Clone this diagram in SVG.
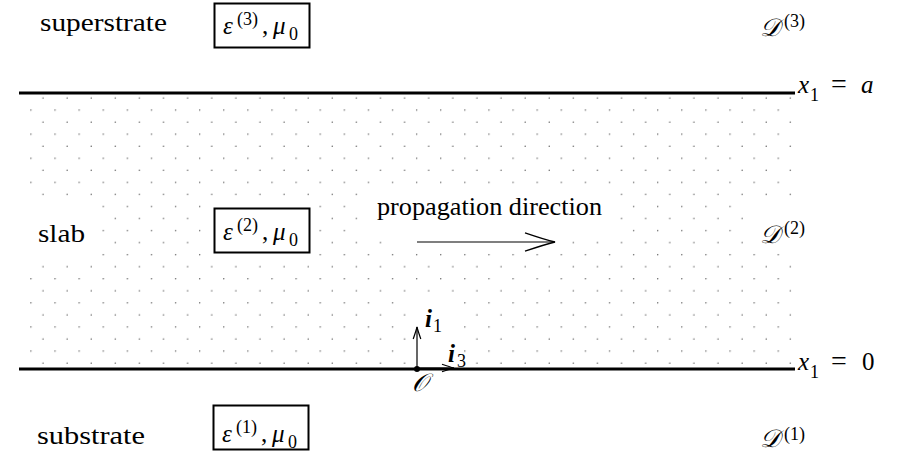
<svg xmlns="http://www.w3.org/2000/svg" width="912" height="464" viewBox="0 0 912 464">
<style>
.box{fill:none;stroke:#000;stroke-width:2}
.bound{stroke:#000;stroke-width:2.8}
.conn{stroke:#000;stroke-width:1.2;fill:none}
</style>
<defs>
<pattern id="dots" x="37" y="92" width="24.107" height="24.1" patternUnits="userSpaceOnUse">
<circle cx="6" cy="6" r="0.7" fill="#555"/>
<circle cx="18.05" cy="18.05" r="0.7" fill="#555"/>
</pattern>
<marker id="headL" markerUnits="userSpaceOnUse" markerWidth="34" markerHeight="24" refX="31" refY="11" orient="auto" overflow="visible">
<path d="M1,1.8 Q21,8.6 31,11 Q21,13.4 1,20.2" fill="none" stroke="#000" stroke-width="1.3"/>
</marker>
<marker id="headS" markerUnits="userSpaceOnUse" markerWidth="16" markerHeight="12" refX="13" refY="5" orient="auto" overflow="visible">
<path d="M1,1.2 Q9,4 13,5 Q9,6 1,8.8" fill="none" stroke="#000" stroke-width="1.2"/>
</marker>
</defs>
<rect width="912" height="464" fill="#fff"/>

<g id="slab-fill">
<path fill="url(#dots)" fill-rule="evenodd" d="M25,95H795V367H25Z M25,200H100V260H25Z M205,200H316V260H205Z M362,188H615V237H362Z M390,237H565V250H390Z M748,200H795V250H748Z M410,297H462V366H410Z"/>
</g>

<g id="boundaries">
<line class="bound" x1="19" y1="93" x2="795" y2="93"/>
<line class="bound" x1="19" y1="369" x2="795" y2="369"/>
</g>

<g font-family="Liberation Serif" font-size="25" fill="#000">
<g id="superstrate">
<text font-family="Liberation Serif" font-size="26" x="40" y="31" textLength="127" lengthAdjust="spacingAndGlyphs">superstrate</text>
</g>
<g id="eps3">
<rect class="box" x="214.5" y="3.5" width="95" height="44"/>
<text font-family="Liberation Serif" y="34"><tspan x="223" font-style="italic">ε</tspan><tspan x="237" dy="-9" font-size="18">(3)</tspan><tspan x="262" dy="9">,</tspan><tspan x="273" font-style="italic">μ</tspan><tspan x="289" dy="6" font-size="18">0</tspan></text>
</g>
<g id="D3">
<text font-family="Liberation Serif" y="36"><tspan x="760" font-style="italic">𝒟</tspan><tspan x="784" dy="-9" font-size="18">(3)</tspan></text>
</g>

<g id="slab">
<text font-family="Liberation Serif" font-size="26" x="38" y="242" textLength="47" lengthAdjust="spacingAndGlyphs">slab</text>
</g>
<g id="eps2">
<rect class="box" x="214.5" y="208.5" width="95" height="44"/>
<text font-family="Liberation Serif" y="240"><tspan x="223" font-style="italic">ε</tspan><tspan x="237" dy="-9" font-size="18">(2)</tspan><tspan x="262" dy="9">,</tspan><tspan x="273" font-style="italic">μ</tspan><tspan x="289" dy="6" font-size="18">0</tspan></text>
</g>
<g id="propagation">
<text font-family="Liberation Serif" x="377" y="215" textLength="225" lengthAdjust="spacingAndGlyphs">propagation direction</text>
</g>
<g id="D2">
<text font-family="Liberation Serif" y="243"><tspan x="760" font-style="italic">𝒟</tspan><tspan x="784" dy="-9" font-size="18">(2)</tspan></text>
</g>

<g id="substrate">
<text font-family="Liberation Serif" font-size="26" x="37" y="444" textLength="108" lengthAdjust="spacingAndGlyphs">substrate</text>
</g>
<g id="eps1">
<rect class="box" x="213.5" y="405.5" width="95" height="44"/>
<text font-family="Liberation Serif" y="442"><tspan x="222" font-style="italic">ε</tspan><tspan x="236" dy="-9" font-size="18">(1)</tspan><tspan x="261" dy="9">,</tspan><tspan x="272" font-style="italic">μ</tspan><tspan x="288" dy="6" font-size="18">0</tspan></text>
</g>
<g id="D1">
<text font-family="Liberation Serif" y="447"><tspan x="760" font-style="italic">𝒟</tspan><tspan x="784" dy="-7" font-size="18">(1)</tspan></text>
</g>

<g id="label-a">
<text font-family="Liberation Serif" y="93"><tspan x="798" font-style="italic">x</tspan><tspan x="810" dy="8" font-size="18">1</tspan><tspan x="831" dy="-8" font-size="28">=</tspan><tspan x="861" font-style="italic">a</tspan></text>
</g>
<g id="label-0">
<text font-family="Liberation Serif" y="370"><tspan x="798" font-style="italic">x</tspan><tspan x="810" dy="8" font-size="18">1</tspan><tspan x="831" dy="-8" font-size="28">=</tspan><tspan x="862">0</tspan></text>
</g>

<g id="origin">
<circle cx="417" cy="369" r="3" fill="#000"/>
<text font-family="Liberation Serif" font-style="italic" x="412" y="391">𝒪</text>
</g>
<g id="i1">
<text font-family="Liberation Serif" y="327"><tspan x="425" font-weight="bold" font-style="italic">i</tspan><tspan x="433" dy="5" font-size="18">1</tspan></text>
</g>
<g id="i3">
<text font-family="Liberation Serif" y="362"><tspan x="448" font-weight="bold" font-style="italic">i</tspan><tspan x="457" dy="5" font-size="18">3</tspan></text>
</g>
</g>

<g id="connectors">
<line class="conn" x1="417" y1="242" x2="555" y2="242" marker-end="url(#headL)"/>
<line class="conn" x1="417" y1="369" x2="417" y2="327" marker-end="url(#headS)"/>
<line class="conn" x1="417" y1="368" x2="454" y2="368" marker-end="url(#headS)"/>
</g>
</svg>
